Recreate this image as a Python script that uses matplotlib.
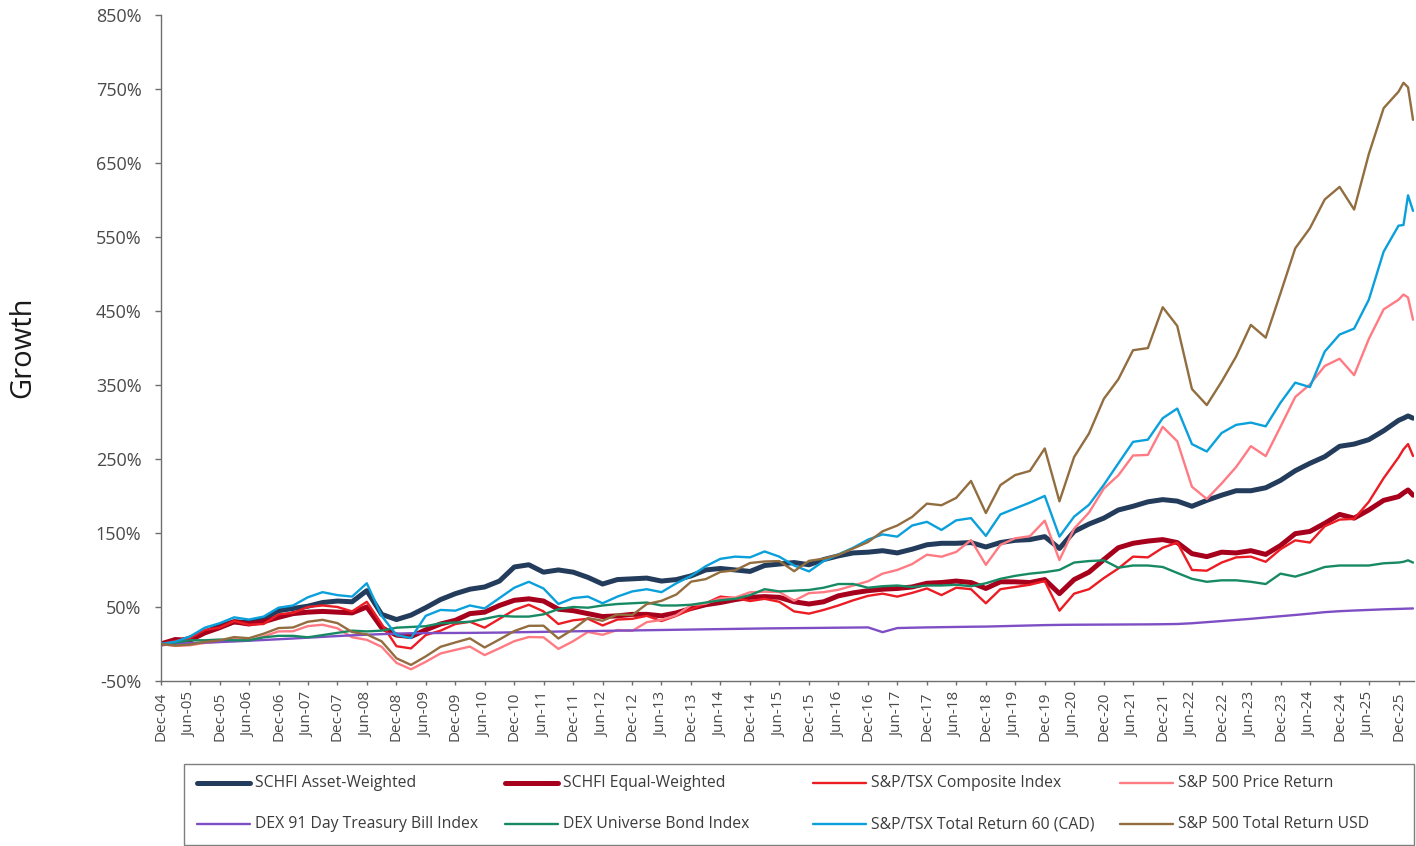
import matplotlib
matplotlib.use("Agg")
import matplotlib.pyplot as plt
import pandas as pd
from matplotlib.lines import Line2D
from matplotlib.patches import Rectangle

plt.rcParams["font.family"] = ["Open Sans", "DejaVu Sans"]

# quarter ends Dec-04 .. Dec-25, then monthly to Mar-26
dates = list(pd.date_range("2004-12-31", "2025-12-31", freq="QE")) + list(
    pd.to_datetime(["2026-01-31", "2026-02-28", "2026-03-31"])
)

schfi_asset = [0,
    2, 8, 16, 24, 30, 29, 34, 45, 48, 51, 56, 58, 57, 72, 40, 33,
    39, 49, 60, 68, 74, 77, 85, 104, 107, 97, 100, 97, 90, 81, 87, 88,
    89, 85, 87, 92, 100, 102, 100, 98, 106, 108, 110, 107, 114, 119, 123, 124,
    126, 123, 128, 134, 136, 136, 137, 131, 137, 140, 141, 145, 129, 152, 162, 170,
    181, 186, 192, 195, 193, 186, 194, 201, 207, 207, 211, 221, 234, 244, 253, 267,
    270, 276, 288, 302, 305, 308, 305]
schfi_equal = [0,
    6, 5, 15, 22, 30, 27, 30, 36, 41, 43, 44, 43, 42, 50, 22, 12,
    10, 19, 27, 32, 41, 43, 52, 59, 61, 58, 47, 45, 41, 37, 38, 40,
    40, 38, 42, 48, 53, 56, 60, 63, 64, 63, 57, 54, 57, 65, 69, 72,
    74, 75, 77, 82, 83, 85, 83, 75, 84, 84, 83, 87, 68, 87, 97, 114,
    130, 136, 139, 141, 137, 122, 118, 124, 123, 126, 121, 133, 149, 152, 163, 175,
    170, 181, 194, 199, 204, 208, 201]
tsx_composite = [0,
    4, 8, 19, 22, 31, 26, 27, 40, 42, 50, 52, 50, 44, 57, 27, -3,
    -6, 12, 18, 27, 30, 22, 34, 46, 53, 44, 27, 32, 34, 25, 33, 34,
    38, 31, 38, 47, 55, 64, 62, 58, 61, 57, 44, 41, 46, 52, 59, 65,
    68, 64, 69, 75, 66, 76, 74, 55, 74, 77, 80, 85, 45, 68, 74, 89,
    102, 118, 117, 130, 137, 100, 99, 110, 117, 118, 111, 128, 140, 137, 159, 168,
    169, 192, 224, 252, 263, 270, 254]
sp500_price = [0,
    -2.6, -1.7, 1.4, 3.0, 6.8, 4.8, 10.2, 17.0, 17.2, 24.1, 26.0, 21.2, 9.1, 5.6, -3.8, -25.5,
    -34.2, -24.1, -12.8, -8.0, -3.5, -15.0, -5.8, 3.8, 9.4, 9.0, -6.6, 3.8, 16.2, 12.4, 18.9, 17.7,
    29.5, 32.5, 38.8, 52.5, 54.5, 61.7, 62.7, 69.9, 70.6, 70.2, 58.4, 68.7, 70.0, 73.2, 78.9, 84.7,
    95.0, 100.0, 107.9, 120.6, 117.9, 124.3, 140.4, 106.9, 133.9, 142.7, 145.6, 166.6,
    113.3, 155.8, 177.5, 209.9, 227.8, 254.6, 255.4, 293.3, 273.8, 212.4, 195.9, 216.8,
    239.1, 267.2, 253.8, 293.6, 333.6, 350.6, 375.5, 385.3, 363.1, 412.0, 452.0, 465.0,
    472, 468, 438]
tbill_91 = [0,
    0.6, 1.2, 1.9, 2.6, 3.4, 4.4, 5.4, 6.4, 7.4, 8.5, 9.6, 10.7, 11.7, 12.5, 13.3, 14.0,
    14.5, 14.7, 14.8, 14.9, 15.0, 15.2, 15.4, 15.8, 16.1, 16.4, 16.8, 17.1, 17.4, 17.7, 18.0, 18.3,
    18.6, 18.9, 19.2, 19.5, 19.8, 20.1, 20.4, 20.7, 21.0, 21.2, 21.4, 21.6, 21.8, 22.0, 22.2, 22.4,
    16.0, 21.5, 22.0, 22.4, 22.7, 23.0, 23.3, 23.5, 24.0, 24.5, 25.0, 25.5, 25.8, 26.0, 26.1, 26.2,
    26.3, 26.4, 26.5, 26.7, 27.0, 28.0, 29.5, 31.0, 32.5, 34.0, 35.8, 37.5, 39.2, 41.0, 43.0, 44.3,
    45.2, 46.0, 46.8, 47.4, 47.6, 47.8, 48.0]
universe_bond = [0,
    2, 5, 5, 6, 5, 5, 9, 11, 11, 9, 12, 15, 18, 17, 18, 22,
    23, 24, 28, 29, 30, 34, 38, 37, 37, 40, 47, 50, 49, 52, 54, 55,
    56, 52, 52, 53, 56, 59, 61, 66, 74, 71, 72, 73, 76, 81, 81, 76,
    78, 79, 77, 79, 79, 80, 78, 82, 88, 92, 95, 97, 100, 110, 112, 113,
    103, 106, 106, 104, 96, 88, 84, 86, 86, 84, 81, 95, 91, 97, 104, 106,
    106, 106, 109, 110, 111, 113, 110]
tsx60_total = [0,
    3, 10, 22, 28, 36, 33, 37, 49, 52, 63, 70, 66, 64, 82, 38, 12,
    8, 38, 46, 45, 52, 48, 62, 76, 84, 75, 54, 62, 64, 55, 64, 71,
    74, 70, 82, 92, 105, 115, 118, 117, 125, 118, 106, 98, 112, 121, 130, 141,
    148, 145, 160, 165, 154, 167, 170, 146, 175, 183, 191, 200, 145, 172, 188, 215,
    244, 273, 276, 305, 318, 270, 260, 285, 296, 299, 294, 326, 353, 347, 395, 418,
    426, 465, 530, 565, 566, 606, 585]
sp500_total = [0,
    -2.1, -0.8, 2.8, 4.9, 9.3, 7.8, 13.9, 21.5, 22.3, 30.0, 32.6, 28.2, 16.1, 13.0, 3.6, -19.3,
    -28.3, -16.8, -3.8, 2.1, 7.6, -4.7, 6.1, 17.5, 24.5, 24.7, 7.4, 19.9, 35.0, 31.4, 39.8, 39.1,
    53.9, 58.3, 66.8, 84.2, 87.6, 97.3, 99.5, 109.4, 111.4, 112.0, 98.3, 112.3, 115.2, 120.4, 129.0, 137.7,
    152.2, 160.0, 171.6, 189.6, 187.4, 197.3, 220.2, 176.9, 214.6, 228.1, 233.8, 264.1,
    192.7, 252.6, 284.3, 331.1, 357.6, 396.8, 399.7, 454.9, 429.6, 344.4, 322.7, 354.4,
    388.4, 431.0, 413.8, 473.9, 534.4, 561.6, 600.5, 617.4, 586.8, 661.7, 723.8, 746.0,
    758, 752, 708]

series = [
    ("SCHFI Asset-Weighted", schfi_asset, "#243c5c", 3.6),
    ("SCHFI Equal-Weighted", schfi_equal, "#a6001c", 3.6),
    ("S&P/TSX Composite Index", tsx_composite, "#ec1c24", 1.7),
    ("S&P 500 Price Return", sp500_price, "#ff7b84", 1.7),
    ("DEX 91 Day Treasury Bill Index", tbill_91, "#7e4fc4", 1.7),
    ("DEX Universe Bond Index", universe_bond, "#188a63", 1.7),
    ("S&P/TSX Total Return 60 (CAD)", tsx60_total, "#0aa0db", 1.7),
    ("S&P 500 Total Return USD", sp500_total, "#926d3f", 1.7),
]

yticks = list(range(-50, 851, 100))
xticks = pd.date_range("2004-12-31", "2025-12-31", freq="6ME")

W, H = 1416, 846
fig = plt.figure(figsize=(W / 100, H / 100), dpi=100)
ax = fig.add_axes([160.7 / W, 1 - 681 / H, (1414 - 160.7) / W, (681 - 14.7) / H])

for name, vals, color, lw in series:
    ax.plot(dates, vals, color=color, lw=lw, solid_joinstyle="round", solid_capstyle="round")

ax.set_ylim(-50, 850)
ax.set_xlim(pd.Timestamp("2004-12-31"), pd.Timestamp("2026-04-06"))
ax.set_yticks(yticks)
ax.set_yticklabels([f"{v}%" for v in yticks])
ax.set_xticks(xticks)
ax.set_xticklabels([d.strftime("%b-%y") for d in xticks], rotation=90)

for s in ("top", "right"):
    ax.spines[s].set_visible(False)
for s in ("left", "bottom"):
    ax.spines[s].set_color("#6e6e6e")
    ax.spines[s].set_linewidth(1.0)
ax.tick_params(axis="y", length=4.3, width=1, color="#6e6e6e", pad=9.6,
               labelsize=13, labelcolor="#4a4a4a")
ax.tick_params(axis="x", length=3.1, width=1, color="#6e6e6e", pad=4.8,
               labelsize=11, labelcolor="#4a4a4a")


# figure-pixel helpers for the label and the legend grid
def fx(px):
    return px / W


def fy(py):
    return 1 - py / H


fig.text(fx(23), fy(347), "Growth", rotation=90, ha="center", va="center",
         fontsize=21, color="#1a1a1a")

fig.add_artist(Rectangle((fx(184), fy(845)), fx(1414) - fx(184), fy(764) - fy(845),
                         transform=fig.transFigure, fill=False,
                         edgecolor="#7f7f7f", lw=1))
col_x = [197, 505, 813, 1120]
row_y = [783, 824]
for i, (name, vals, color, lw) in enumerate(series):
    x0 = col_x[i % 4]
    y0 = row_y[i // 4]
    fig.add_artist(Line2D([fx(x0), fx(x0 + 53)], [fy(y0), fy(y0)],
                          transform=fig.transFigure, color=color, lw=lw,
                          solid_capstyle="round"))
    fig.text(fx(x0 + 58), fy(y0), name, va="center", ha="left",
             fontsize=11.3, color="#3c3c3c")

fig.savefig("out.png", dpi=100)
